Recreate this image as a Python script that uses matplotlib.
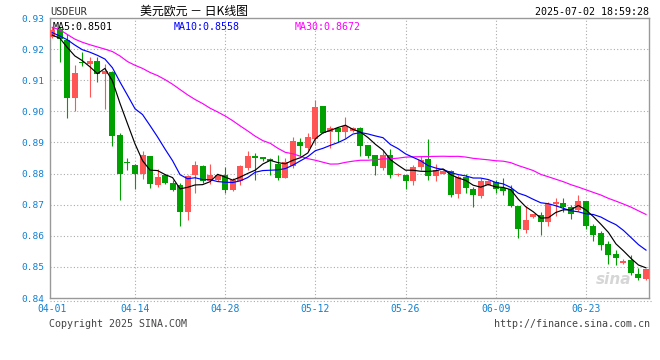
import numpy as np
import pandas as pd
import matplotlib
matplotlib.use('Agg')
import matplotlib.pyplot as plt
from matplotlib.lines import Line2D

# daily candles, Mon-Sat, 2025-04-01 .. 2025-07-02
opens = [0.9240, 0.9266, 0.9228, 0.9044, 0.9160, 0.9153, 0.9162, 0.9119, 0.9127, 0.8923,
         0.8836, 0.8827, 0.8797, 0.8856, 0.8763, 0.8795, 0.8771, 0.8764, 0.8678, 0.8796,
         0.8825, 0.8775, 0.8780, 0.8796, 0.8748, 0.8775, 0.8818, 0.8855, 0.8852, 0.8846,
         0.8831, 0.8787, 0.8823, 0.8903, 0.8882, 0.8910, 0.9017, 0.8933, 0.8946, 0.8935,
         0.8938, 0.8946, 0.8892, 0.8860, 0.8819, 0.8860, 0.8794, 0.8796, 0.8777, 0.8821,
         0.8846, 0.8791, 0.8800, 0.8807, 0.8735, 0.8789, 0.8750, 0.8729, 0.8764, 0.8773,
         0.8753, 0.8750, 0.8696, 0.8619, 0.8659, 0.8668, 0.8643, 0.8702, 0.8705, 0.8694,
         0.8684, 0.8711, 0.8633, 0.8609, 0.8574, 0.8542, 0.8514, 0.8523, 0.8478, 0.8462]
highs = [0.9271, 0.9272, 0.9250, 0.9150, 0.9192, 0.9175, 0.9175, 0.9153, 0.9129, 0.8929,
         0.8851, 0.8832, 0.8872, 0.8856, 0.8816, 0.8800, 0.8778, 0.8769, 0.8796, 0.8841,
         0.8828, 0.8831, 0.8799, 0.8822, 0.8786, 0.8828, 0.8874, 0.8867, 0.8852, 0.8851,
         0.8860, 0.8850, 0.8916, 0.8913, 0.8930, 0.9037, 0.9017, 0.8954, 0.8951, 0.8983,
         0.8950, 0.8951, 0.8892, 0.8860, 0.8876, 0.8878, 0.8802, 0.8796, 0.8828, 0.8857,
         0.8912, 0.8831, 0.8812, 0.8810, 0.8796, 0.8800, 0.8758, 0.8785, 0.8778, 0.8778,
         0.8785, 0.8764, 0.8696, 0.8696, 0.8671, 0.8678, 0.8708, 0.8723, 0.8723, 0.8698,
         0.8730, 0.8711, 0.8638, 0.8614, 0.8584, 0.8555, 0.8525, 0.8537, 0.8496, 0.8494]
lows = [0.9235, 0.9160, 0.8977, 0.9001, 0.9145, 0.9046, 0.9095, 0.9009, 0.8889, 0.8715,
        0.8811, 0.8750, 0.8784, 0.8755, 0.8757, 0.8768, 0.8745, 0.8632, 0.8652, 0.8737,
        0.8771, 0.8767, 0.8777, 0.8737, 0.8745, 0.8764, 0.8812, 0.8780, 0.8840, 0.8796,
        0.8780, 0.8785, 0.8819, 0.8855, 0.8876, 0.8892, 0.8929, 0.8882, 0.8903, 0.8914,
        0.8935, 0.8855, 0.8850, 0.8796, 0.8812, 0.8786, 0.8792, 0.8751, 0.8764, 0.8810,
        0.8778, 0.8775, 0.8797, 0.8726, 0.8721, 0.8739, 0.8694, 0.8721, 0.8764, 0.8737,
        0.8732, 0.8692, 0.8593, 0.8609, 0.8658, 0.8604, 0.8633, 0.8665, 0.8678, 0.8655,
        0.8680, 0.8622, 0.8584, 0.8555, 0.8509, 0.8505, 0.8510, 0.8475, 0.8459, 0.8459]
closes = [0.9260, 0.9232, 0.9044, 0.9123, 0.9155, 0.9162, 0.9121, 0.9129, 0.8921, 0.8797,
          0.8834, 0.8797, 0.8859, 0.8768, 0.8790, 0.8770, 0.8748, 0.8678, 0.8793, 0.8828,
          0.8775, 0.8796, 0.8796, 0.8748, 0.8780, 0.8823, 0.8855, 0.8849, 0.8846, 0.8839,
          0.8787, 0.8836, 0.8905, 0.8887, 0.8916, 0.9015, 0.8930, 0.8946, 0.8933, 0.8953,
          0.8948, 0.8887, 0.8858, 0.8823, 0.8860, 0.8794, 0.8800, 0.8777, 0.8822, 0.8844,
          0.8791, 0.8810, 0.8807, 0.8732, 0.8789, 0.8753, 0.8732, 0.8775, 0.8775, 0.8750,
          0.8745, 0.8696, 0.8623, 0.8652, 0.8670, 0.8643, 0.8702, 0.8708, 0.8694, 0.8670,
          0.8713, 0.8630, 0.8601, 0.8571, 0.8539, 0.8529, 0.8518, 0.8480, 0.8464, 0.8494]

ma5_head = [0.9245, 0.9235, 0.9205, 0.9178]
ma10_head = [0.9253, 0.9242, 0.9230, 0.9213, 0.9198, 0.9190, 0.9180, 0.9168, 0.9140]
ma30_head = [0.9270, 0.9262, 0.9247, 0.9232, 0.9222, 0.9214, 0.9207, 0.9200, 0.9192, 0.9178,
             0.9160, 0.9148, 0.9138, 0.9125, 0.9115, 0.9102, 0.9087, 0.9070, 0.9053, 0.9038,
             0.9025, 0.9010, 0.8998, 0.8985, 0.8970, 0.8953, 0.8937, 0.8920, 0.8906]

tick_dates = ['04-01', '04-14', '04-28', '05-12', '05-26', '06-09', '06-23']
y_ticks = [0.84, 0.85, 0.86, 0.87, 0.88, 0.89, 0.90, 0.91, 0.92, 0.93]

days = pd.date_range('2025-04-01', '2025-07-02', freq='D')
days = days[days.dayofweek != 6]
labels = [d.strftime('%m-%d') for d in days]
x = np.arange(len(closes))

c = pd.Series(closes)
ma5 = c.rolling(5).mean().values
ma5[:len(ma5_head)] = ma5_head
ma10 = c.rolling(10).mean().values
ma10[:len(ma10_head)] = ma10_head
ma30 = c.rolling(30).mean().values
ma30[:len(ma30_head)] = ma30_head

RED = '#ff5555'
GREEN = '#00a000'
BLUE_TXT = '#1080d0'
GRID = '#aaaaaa'
MONO = 'DejaVu Sans Mono'

fig = plt.figure(figsize=(6.6, 3.6), dpi=100)
ax = fig.add_axes([50 / 660, 1 - 298 / 360, 599 / 660, 280 / 360])

for yv in y_ticks[1:-1]:
    ax.axhline(yv, color=GRID, lw=0.8, ls=(0, (1, 2)), zorder=0)
tick_pos = [labels.index(t) for t in tick_dates]
for xp in tick_pos[1:]:
    ax.axvline(xp, color=GRID, lw=0.8, ls=(0, (1, 2)), zorder=0)

for i in x:
    o, h, l, cl = opens[i], highs[i], lows[i], closes[i]
    col = RED if cl >= o else GREEN
    ax.vlines(i, l, h, color=col, lw=0.8, zorder=2)
    body = max(abs(cl - o), 0.00005)
    ax.bar(i, body, bottom=min(o, cl), width=0.8, color=col, lw=0, zorder=3)

ax.plot(x, ma30, color='#ff00ff', lw=0.85, zorder=4)
ax.plot(x, ma10, color='#0000ff', lw=0.85, zorder=4)
ax.plot(x, ma5, color='black', lw=0.85, zorder=4)

ax.set_xlim(-0.31, 79.4)
ax.set_ylim(0.84, 0.93)
ax.set_yticks(y_ticks)
ax.set_yticklabels(['%.2f' % v for v in y_ticks], family=MONO, fontsize=6.8, color=BLUE_TXT)
ax.set_xticks(tick_pos)
ax.set_xticklabels(tick_dates, family=MONO, fontsize=7, color=BLUE_TXT)
ax.tick_params(length=0, pad=4)
for s in ax.spines.values():
    s.set_color('#999999')
    s.set_linewidth(1)

ax.text(0.005, 0.985, 'MA5:0.8501', transform=ax.transAxes, family=MONO, fontsize=7.2,
        color='black', va='top')
ax.text(0.206, 0.985, 'MA10:0.8558', transform=ax.transAxes, family=MONO, fontsize=7.2,
        color='#0000ff', va='top')
ax.text(0.409, 0.985, 'MA30:0.8672', transform=ax.transAxes, family=MONO, fontsize=7.2,
        color='#ff00ff', va='top')
ax.text(0.97, 0.04, 'sina', transform=ax.transAxes, fontsize=11, fontweight='bold',
        style='italic', color='#cccccc', ha='right', va='bottom', alpha=0.8)

fig.text(50 / 660, 1 - 12 / 360, 'USDEUR', family=MONO, fontsize=7.4, color='#333333',
         va='center', ha='left')
fig.text(140 / 660, 1 - 11 / 360, '美元欧元 － 日K线图', family=['Noto Sans CJK SC', 'DejaVu Sans'],
         fontsize=8.6, color='black', va='center', ha='left')
fig.text(649 / 660, 1 - 12 / 360, '2025-07-02 18:59:28', family=MONO, fontsize=7.2,
         color='black', va='center', ha='right')
fig.text(49 / 660, 1 - 324 / 360, 'Copyright 2025 SINA.COM', family=MONO, fontsize=7.2,
         color='#444444', va='center', ha='left')
fig.text(650 / 660, 1 - 324 / 360, 'http://finance.sina.com.cn', family=MONO, fontsize=7.2,
         color='#444444', va='center', ha='right')
fig.add_artist(Line2D([50 / 660, 652 / 660], [1 - 301 / 360, 1 - 301 / 360], color=GRID,
                      lw=0.8, ls=(0, (1, 2))))

fig.savefig('out.png', dpi=100)
